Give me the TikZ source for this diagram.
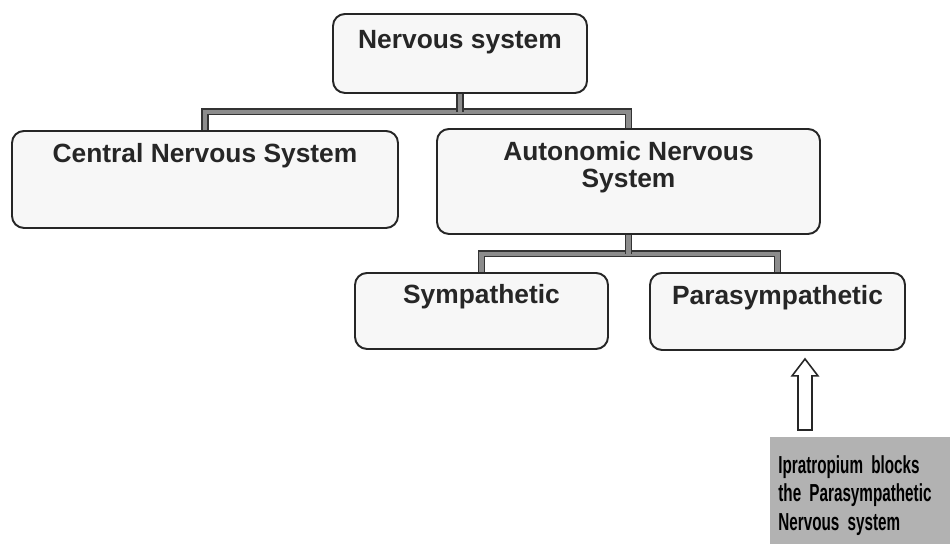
\documentclass[tikz,border=0pt]{standalone}
\usepackage{fontspec}
\setmainfont{Liberation Sans}
\newfontfamily\narrowsf[FakeStretch=0.62]{Liberation Sans}
\usetikzlibrary{calc}
\begin{document}
\begin{tikzpicture}[
  box/.style={draw=black!85,line width=1.1pt,rounded corners=0.24cm,fill=gray!6,
    inner xsep=0pt,inner ysep=0pt,anchor=north,text=black!85,align=center,
    font=\fontsize{15}{15.4}\selectfont\bfseries},
  bar/.style={draw=black!80,line width=0.7pt,double=black!45,double distance=2.6pt},
  hollowarrow/.style={draw=black!85,line width=0.9pt,fill=white,line join=miter}]
  \useasboundingbox (0,0) rectangle (19,-10.88);
  \node[box,minimum width=5.08cm,text height=0.7cm,text depth=0.88cm] (nerv) at (9.2,-0.26) {Nervous system};
  \node[box,minimum width=7.72cm,text height=0.64cm,text depth=1.3cm] (cns) at (4.1,-2.6) {Central Nervous System};
  \node[box,minimum width=7.66cm,text height=1.18cm,text depth=0.92cm] (ans) at (12.57,-2.56) {Autonomic Nervous\\System};
  \node[box,minimum width=5.06cm,text height=0.62cm,text depth=0.9cm] (sym) at (9.63,-5.44) {Sympathetic};
  \node[box,minimum width=5.1cm,text height=0.64cm,text depth=0.9cm] (para) at (15.55,-5.44) {Parasympathetic};
  \node[anchor=north west,fill=black!30,inner xsep=0.16cm,inner ysep=0pt,text width=3.28cm,align=left,
    text height=0.72cm,text depth=1.42cm,font=\narrowsf\fontsize{14}{16.2}\selectfont\bfseries] (drug) at (15.4,-8.74)
    {Ipratropium blocks\\the Parasympathetic\\Nervous system};
  \coordinate (j1) at ($(nerv.south)+(0,-0.36)$);
  \coordinate (j2) at ($(ans.south)+(0,-0.38)$);
  \draw[bar] (cns.north) |- (j1) -| (ans.north);
  \draw[bar] (nerv.south) -- (j1);
  \draw[bar] (sym.north) |- (j2) -| (para.north);
  \draw[bar] (ans.south) -- (j2);
  \coordinate (tip) at ($(para.south)+(0.55,-0.16)$);
  \coordinate (tail) at ($(tip |- drug.north)+(0,0.14)$);
  \draw[hollowarrow] ($(tail)+(-0.14,0)$) -- ($(tip)+(-0.14,-0.34)$) -- ($(tip)+(-0.26,-0.34)$) -- (tip)
    -- ($(tip)+(0.26,-0.34)$) -- ($(tip)+(0.14,-0.34)$) -- ($(tail)+(0.14,0)$) -- cycle;
\end{tikzpicture}
\end{document}
